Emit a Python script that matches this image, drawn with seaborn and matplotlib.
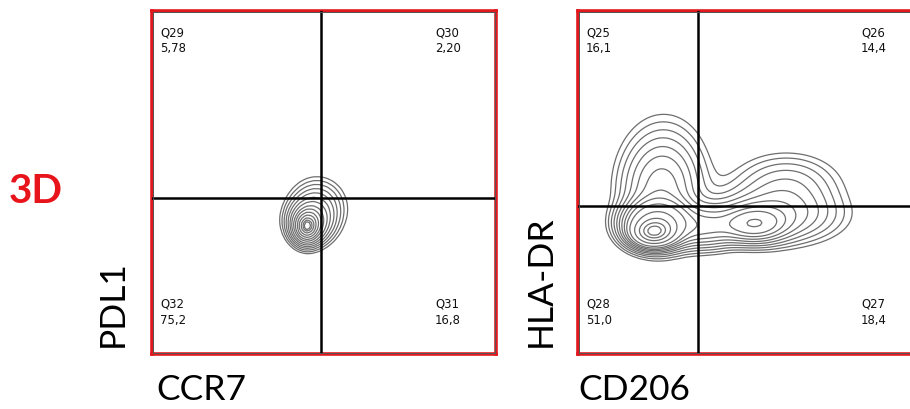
import numpy as np
import pandas as pd
import matplotlib
matplotlib.use("Agg")
import matplotlib.pyplot as plt
import seaborn as sns
from matplotlib.patches import Rectangle

sns.set_theme(style="white")
plt.rcParams["font.family"] = ["Lato", "DejaVu Sans"]

# ---- CCR7 vs PDL1 -------------------------------------------------------
ccr7_gate_x = 49.1
ccr7_gate_y = 45.5
ccr7_quadrants = ["Q29", "Q30", "Q31", "Q32"]          # UL, UR, LR, LL
ccr7_percents = [5.78, 2.20, 16.8, 75.2]
# population components: centre x, centre y, sd x, sd y, mass
ccr7_cx = [45.0, 45.8, 48.0]
ccr7_cy = [37.0, 38.5, 42.5]
ccr7_sx = [2.0, 3.3, 4.3]
ccr7_sy = [2.4, 3.4, 4.5]
ccr7_w = [0.35, 0.40, 0.25]

# ---- CD206 vs HLA-DR ----------------------------------------------------
cd206_gate_x = 34.9
cd206_gate_y = 43.1
cd206_quadrants = ["Q25", "Q26", "Q27", "Q28"]
cd206_percents = [16.1, 14.4, 18.4, 51.0]
cd206_cx = [22.0, 23.0, 24.0, 25.0, 37.0, 51.0, 56.0, 60.5]
cd206_cy = [35.5, 38.0, 46.5, 55.0, 37.0, 37.8, 40.0, 49.0]
cd206_sx = [2.6, 4.8, 6.3, 7.0, 5.0, 5.0, 11.0, 9.0]
cd206_sy = [1.9, 3.5, 8.0, 9.0, 3.5, 2.8, 4.6, 5.5]
cd206_w = [0.17, 0.27, 0.13, 0.07, 0.06, 0.08, 0.13, 0.07]

# contour probability levels, spaced evenly in normal radius
contour_radius = np.linspace(0.3, 2.65, 14)
prob_levels = list(np.sort(np.exp(-contour_radius ** 2 / 2)))


def density_table(cx, cy, sx, sy, w):
    g = np.linspace(0, 100, 101)
    X, Y = np.meshgrid(g, g)
    Z = np.zeros_like(X)
    for a, b, s, t, k in zip(cx, cy, sx, sy, w):
        Z += k / (s * t) * np.exp(-0.5 * (((X - a) / s) ** 2 + ((Y - b) / t) ** 2))
    return pd.DataFrame({"x": X.ravel(), "y": Y.ravel(), "w": Z.ravel()})


def fmt(v):
    s = f"{v:.2f}" if v < 10 else f"{v:.1f}"
    return s.replace(".", ",")


def panel(ax, table, gx, gy, quads, pcts):
    sns.kdeplot(data=table, x="x", y="y", weights="w", levels=prob_levels,
                bw_adjust=0.35, gridsize=150, clip=((0, 100), (0, 100)),
                color="#6e6e6e", linewidths=0.9, ax=ax)
    ax.axvline(gx, color="black", lw=1.8, zorder=5)
    ax.axhline(gy, color="black", lw=1.8, zorder=5)
    ax.set_xlim(0, 100)
    ax.set_ylim(0, 100)
    ax.set_xticks([])
    ax.set_yticks([])
    ax.set_xlabel("")
    ax.set_ylabel("")
    for sp in ax.spines.values():
        sp.set_visible(True)
        sp.set_color("#e0191f")
        sp.set_linewidth(2.6)
    ax.add_patch(Rectangle((0.004, 0.004), 0.992, 0.992, transform=ax.transAxes,
                           fill=False, ec="#555555", lw=0.7, zorder=6))
    tkw = dict(transform=ax.transAxes, fontsize=8.4, color="#111111",
               family="DejaVu Sans", linespacing=1.3, zorder=7)
    spots = [(0.023, 0.958, "top"), (0.823, 0.958, "top"),
             (0.823, 0.082, "bottom"), (0.023, 0.082, "bottom")]
    for (x, y, va), q, p in zip(spots, quads, pcts):
        ax.text(x, y, f"{q}\n{fmt(p)}", ha="left", va=va, **tkw)


fig = plt.figure(figsize=(9.1, 4.1), dpi=100)
W, H = 910, 410
ax1 = fig.add_axes([152 / W, (H - 355) / H, 344 / W, 343 / H])
ax2 = fig.add_axes([578 / W, (H - 355) / H, 344 / W, 343 / H])

panel(ax1, density_table(ccr7_cx, ccr7_cy, ccr7_sx, ccr7_sy, ccr7_w),
      ccr7_gate_x, ccr7_gate_y, ccr7_quadrants, ccr7_percents)
panel(ax2, density_table(cd206_cx, cd206_cy, cd206_sx, cd206_sy, cd206_w),
      cd206_gate_x, cd206_gate_y, cd206_quadrants, cd206_percents)

lab = dict(fontsize=25.5, color="black")
fig.text(156 / W, (H - 400) / H, "CCR7", ha="left", va="baseline", **lab)
fig.text(578 / W, (H - 400) / H, "CD206", ha="left", va="baseline", **lab)
fig.text(113 / W, (H - 347) / H, "PDL1", rotation=90, ha="center", va="bottom", **lab)
fig.text(541 / W, (H - 347) / H, "HLA-DR", rotation=90, ha="center", va="bottom", **lab)
fig.text(36 / W, (H - 192) / H, "3D", ha="center", va="center", fontsize=29,
         fontweight="bold", color="#e8141c")

fig.savefig("out.png", dpi=100)
